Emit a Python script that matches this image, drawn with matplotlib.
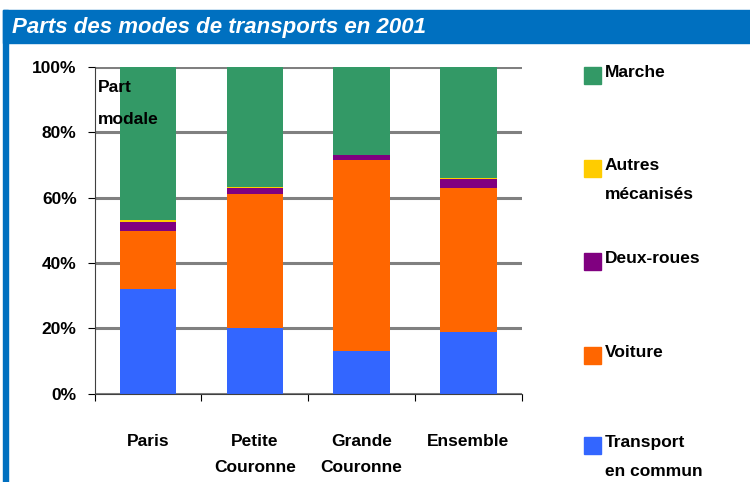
import matplotlib.pyplot as plt
import numpy as np

# Données (en %)
categories = ["Paris", "Petite\nCouronne", "Grande\nCouronne", "Ensemble"]
transport_commun = [32.0, 20.0, 13.0, 19.0]
voiture = [17.7, 41.0, 58.5, 44.0]
deux_roues = [2.8, 1.9, 1.5, 2.7]
autres_mecanises = [0.6, 0.3, 0.1, 0.4]
marche = [46.9, 36.8, 26.9, 33.9]

series = [
    ("Transport\nen commun", transport_commun, "#3366FF"),
    ("Voiture", voiture, "#FF6600"),
    ("Deux-roues", deux_roues, "#800080"),
    ("Autres\nmécanisés", autres_mecanises, "#FFCC00"),
    ("Marche", marche, "#339966"),
]

plt.rcParams["font.family"] = ["Liberation Sans", "DejaVu Sans"]
plt.rcParams["font.weight"] = "bold"
fs = 12.5

W, H = 750, 482
fig = plt.figure(figsize=(7.5, 4.82), dpi=100)

# Bandeau du titre et bord gauche
fig.patches.append(plt.Rectangle((3 / W, 1 - 43 / H), 1, 33 / H, transform=fig.transFigure,
                                 color="#0070C0", zorder=0))
fig.patches.append(plt.Rectangle((3 / W, 0), 5 / W, 1 - 10 / H, transform=fig.transFigure,
                                 color="#0070C0", zorder=0))
fig.text(12 / W, 1 - 27 / H, "Parts des modes de transports en 2001", color="white",
         fontsize=16, fontstyle="italic", fontweight="bold", va="center", ha="left")

ax = fig.add_axes([94.7 / W, 1 - 393.7 / H, 427 / W, 327 / H])
x = np.arange(len(categories))
bottom = np.zeros(len(categories))
for label, vals, color in series:
    ax.bar(x, vals, 0.53, bottom=bottom, color=color, label=label, zorder=2)
    bottom += np.array(vals)

ax.set_xlim(-0.5, len(categories) - 0.5)
ax.set_ylim(0, 100)
ax.set_yticks(np.arange(0, 101, 20))
ax.set_yticklabels([f"{v}%" for v in range(0, 101, 20)], fontsize=fs, fontweight="bold")
ax.yaxis.grid(True, color="#808080", linewidth=2.2, zorder=1)
ax.set_axisbelow(True)

# Ticks de catégories aux séparations
ax.set_xticks(np.arange(-0.5, len(categories), 1))
ax.set_xticklabels([])
ax.tick_params(axis="x", direction="out", length=5, width=0.8)
ax.tick_params(axis="y", direction="out", length=5, width=0.8, pad=8)
for i, cat in enumerate(categories):
    ax.annotate(cat, xy=(i, 0), xycoords=("data", "axes fraction"), xytext=(0, -29),
                textcoords="offset points", ha="center", va="top", fontsize=fs,
                fontweight="bold", linespacing=1.9)

for s in ["top", "right"]:
    ax.spines[s].set_visible(False)
ax.spines["left"].set_color("#404040")
ax.spines["bottom"].set_color("#404040")

ax.text(3 / 427, 0.96, "Part\nmodale", transform=ax.transAxes, fontsize=fs,
        fontweight="bold", va="top", ha="left", linespacing=2.4, zorder=5)

# Légende manuelle
legend_y = [75, 168, 261, 355, 445]
for (label, vals, color), yy in zip(series[::-1], legend_y):
    fig.patches.append(plt.Rectangle((584 / W, 1 - (yy + 9) / H), 17 / W, 17 / H,
                                     transform=fig.transFigure, color=color))
    fig.text(605 / W, 1 - (yy - 10) / H, label, fontsize=fs, fontweight="bold",
             va="top", ha="left", linespacing=2.2)

plt.savefig("out.png", dpi=100)
